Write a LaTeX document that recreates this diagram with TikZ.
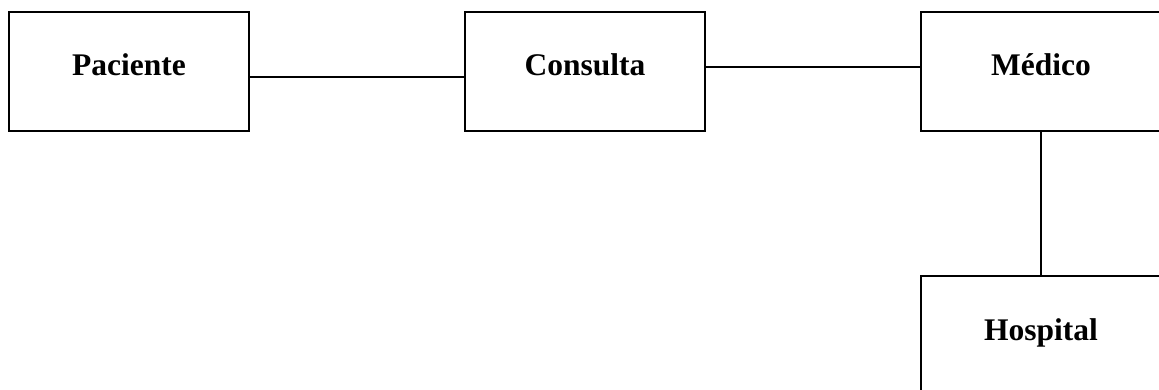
\documentclass[tikz,border=0pt]{standalone}
\usepackage{fontspec}
\setmainfont{Liberation Serif}

\begin{document}
\begin{tikzpicture}[x=1pt, y=1pt, line width=1.7pt,
  entity/.style={rectangle, draw, line width=1.7pt, minimum width=240pt, minimum height=119pt, inner sep=0pt,
    font=\bfseries\fontsize{31.5}{38}\selectfont, text height=22pt, text depth=13pt}]
  \useasboundingbox (0,0) rectangle (1159,-390);

  \node[entity] (paciente) at (129,-71.5) {Paciente};
  \node[entity] (consulta) at (585,-71.5) {Consulta};
  \node[entity] (medico) at (1041,-71.5) {Médico};
  \node[entity] (hospital) at (1041,-335.5) {Hospital};

  \draw ([yshift=-5.5pt]paciente.east) -- ([yshift=-5.5pt]consulta.west);
  \draw ([yshift=4.5pt]consulta.east) -- ([yshift=4.5pt]medico.west);
  \draw (medico) -- (hospital);
\end{tikzpicture}
\end{document}
